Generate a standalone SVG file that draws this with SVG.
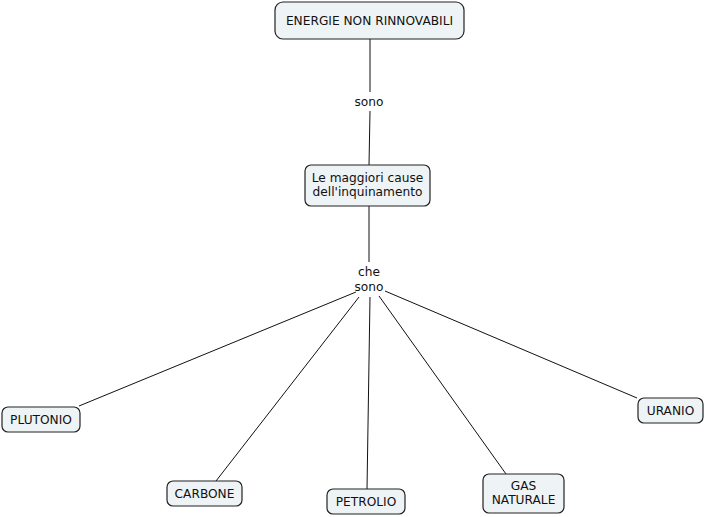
<svg xmlns="http://www.w3.org/2000/svg" width="705" height="517" viewBox="0 0 705 517">
<style>
.n rect{fill:#eef3f5;stroke:#222;stroke-width:1.2}
text{font-family:"DejaVu Sans",Verdana,sans-serif;font-size:12.2px;fill:#111;text-anchor:middle}
.c line{stroke:#111;stroke-width:1}
</style>
<rect width="705" height="517" fill="#fff"/>
<g class="c" id="connectors">
<line x1="370" y1="39" x2="370" y2="92"/>
<line x1="370" y1="111" x2="369" y2="165"/>
<line x1="369" y1="206" x2="369" y2="262"/>
<line x1="356" y1="292" x2="79" y2="406"/>
<line x1="359" y1="297" x2="216" y2="481"/>
<line x1="370" y1="297" x2="367" y2="489"/>
<line x1="379" y1="296" x2="506" y2="474"/>
<line x1="385" y1="291" x2="637" y2="398"/>
</g>
<g id="lbl1"><text x="369" y="106">sono</text></g>
<g id="lbl2"><text x="369" y="276">che</text><text x="369" y="291">sono</text></g>
<g class="n" id="n1"><rect x="275" y="2" width="189" height="37" rx="8"/><text x="369.5" y="25">ENERGIE NON RINNOVABILI</text></g>
<g class="n" id="n2"><rect x="305" y="165" width="125" height="41" rx="6"/><text x="367.5" y="182">Le maggiori cause</text><text x="367.5" y="196">dell'inquinamento</text></g>
<g class="n" id="n3"><rect x="2" y="407" width="78" height="25" rx="6"/><text x="41" y="424">PLUTONIO</text></g>
<g class="n" id="n4"><rect x="167" y="481" width="75" height="25" rx="6"/><text x="204.5" y="498">CARBONE</text></g>
<g class="n" id="n5"><rect x="327" y="489" width="78" height="25" rx="6"/><text x="366" y="506">PETROLIO</text></g>
<g class="n" id="n6"><rect x="483" y="474" width="81" height="39" rx="6"/><text x="523.5" y="490">GAS</text><text x="523.5" y="504">NATURALE</text></g>
<g class="n" id="n7"><rect x="638" y="398" width="65" height="25" rx="6"/><text x="670.5" y="415">URANIO</text></g>
</svg>
